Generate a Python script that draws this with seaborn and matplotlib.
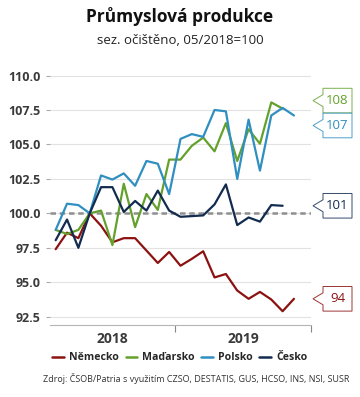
import matplotlib
matplotlib.use("Agg")
import matplotlib.pyplot as plt
import numpy as np
import pandas as pd
import seaborn as sns
from matplotlib.patches import Polygon
from matplotlib.lines import Line2D

# ---------------- data ----------------
months = ["2018-02", "2018-03", "2018-04", "2018-05", "2018-06", "2018-07", "2018-08",
          "2018-09", "2018-10", "2018-11", "2018-12", "2019-01", "2019-02", "2019-03",
          "2019-04", "2019-05", "2019-06", "2019-07", "2019-08", "2019-09", "2019-10",
          "2019-11", "2019-12"]
nemecko = [97.4, 98.6, 98.2, 100.0, 99.1, 97.9, 98.2, 98.2, 97.3, 96.4, 97.2, 96.2,
           96.7, 97.25, 95.35, 95.6, 94.4, 93.8, 94.3, 93.75, 92.9, 93.8]
madarsko = [98.8, 98.5, 98.8, 100.0, 100.2, 97.7, 102.15, 99.0, 101.4, 100.25, 103.9,
            103.9, 104.9, 105.5, 104.5, 106.55, 103.8, 106.1, 105.05, 108.05, 107.6]
polsko = [98.8, 100.7, 100.6, 100.0, 102.75, 102.45, 102.9, 102.0, 103.8, 103.6, 101.4,
          105.4, 105.75, 105.55, 107.5, 107.4, 102.5, 106.8, 103.1, 107.1, 107.65, 107.1]
cesko = [98.05, 99.55, 97.5, 100.0, 101.9, 101.9, 100.1, 100.9, 100.2, 101.65, 100.2,
         99.75, 99.8, 99.85, 100.65, 102.1, 99.15, 99.7, 99.4, 100.6, 100.55]
countries = ["Německo", "Maďarsko", "Polsko", "Česko"]
series = [nemecko, madarsko, polsko, cesko]
colors = ["#8c1212", "#64a12c", "#2f8fc0", "#122b4f"]
yticks = [92.5, 95.0, 97.5, 100.0, 102.5, 105.0, 107.5, 110.0]
year_labels = ["2018", "2019"]
base_value = 100.0

rows = []
for c, vals in zip(countries, series):
    for i, v in enumerate(vals):
        rows.append({"month": months[i], "idx": i, "value": v, "country": c})
df = pd.DataFrame(rows)

# ---------------- figure ----------------
sns.set_theme(style="white")
plt.rcParams["font.family"] = ["Open Sans", "DejaVu Sans"]

W, H = 360, 397
fig = plt.figure(figsize=(W / 100, H / 100), dpi=100)
ax = fig.add_axes([50 / W, 1 - 325 / H, 261 / W, 255 / H])

ax.axhline(base_value, color="#8f8f8f", lw=1.8, ls=(0, (2.2, 1.5)), zorder=1)
sns.lineplot(data=df, x="idx", y="value", hue="country", hue_order=countries,
             palette=colors, lw=1.6, legend=False, ax=ax, zorder=3)

ax.set_xlim(-0.5, len(months) - 0.5)
ax.set_ylim(91.9, 110.4)
ax.set_yticks(yticks)
ax.set_yticklabels([f"{t:.1f}" for t in yticks], fontsize=9, fontweight="bold", color="#3a3a3a")
ax.yaxis.grid(True, color="#e2e2e2", lw=0.8)
ax.xaxis.grid(False)
ax.set_axisbelow(True)
for s in ["top", "right", "left"]:
    ax.spines[s].set_visible(False)
ax.spines["bottom"].set_color("#b5b5b5")
ax.spines["bottom"].set_linewidth(0.8)
ax.tick_params(axis="y", left=True, length=3, width=0.8, color="#aaaaaa", pad=3.5)
ax.set_xlabel("")
ax.set_ylabel("")

# year boundaries and centred year labels
first_year_end = months.index("2019-01") - 0.5
last = len(months) - 0.5
ax.set_xticks([first_year_end, last])
ax.set_xticklabels(["", ""])
ax.tick_params(axis="x", which="major", bottom=True, length=5, width=0.8, color="#888888")
ax.set_xticks([(-0.5 + first_year_end) / 2, (first_year_end + last) / 2], minor=True)
ax.set_xticklabels(year_labels, minor=True, fontsize=10, fontweight="bold", color="#3a3a3a")
ax.tick_params(axis="x", which="minor", length=0, pad=5)

# ---------------- callouts ----------------
fig.canvas.draw()
ax_right = ax.transAxes.transform((1, 0))[0]
offsets_px = [0, -8, 10, 0]  # vertical shifts (down positive) to avoid overlap
for c, vals, col, off in zip(countries, series, colors, offsets_px):
    xd, yd = ax.transData.transform((len(vals) - 1, vals[-1]))
    ty = yd - off
    tx = ax_right + 2
    left, right, h, b = tx + 10, tx + 39, 12.3, 6
    pts = [(left, ty + h), (right, ty + h), (right, ty - h), (left, ty - h),
           (left, ty - b), (tx, ty), (left, ty + b)]
    fig.patches.append(Polygon(pts, closed=True, transform=None, facecolor="white",
                               edgecolor=col, lw=0.7, alpha=0.85, figure=fig))
    fig.text((left + right) / 2 / W, ty / H, f"{round(vals[-1]):.0f}", ha="center",
             va="center", fontsize=9.5, color=col)

# ---------------- titles / legend / source ----------------
fig.text(0.5, 1 - 17 / H, "Průmyslová produkce", ha="center", va="center",
         fontsize=12.5, fontweight="bold", color="#111111")
fig.text(0.5, 1 - 40 / H, "sez. očištěno, 05/2018=100", ha="center", va="center",
         fontsize=9.5, color="#222222")

handles = [Line2D([0], [0], color=c, lw=1.8) for c in colors]
fig.legend(handles, countries, loc="center", bbox_to_anchor=(0.5, 1 - 358 / H),
           ncol=4, frameon=False, handlelength=1.1, handletextpad=0.5,
           columnspacing=0.6, prop={"weight": "bold", "size": 7.6})

fig.text(196 / W, 1 - 378 / H,
         "Zdroj: ČSOB/Patria s využitím CZSO, DESTATIS, GUS, HCSO, INS, NSI, SUSR",
         ha="center", va="center", fontsize=6.5, color="#333333")

fig.savefig("out.png", dpi=100)
